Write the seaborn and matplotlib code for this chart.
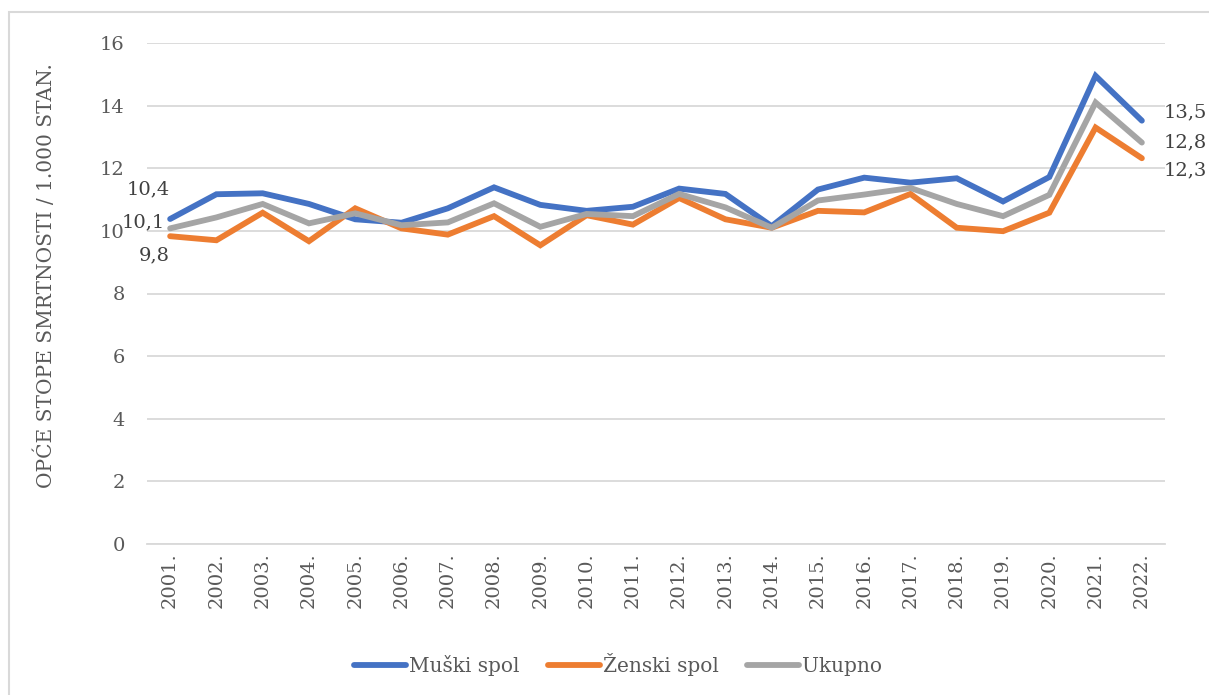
import matplotlib
matplotlib.use("Agg")
import matplotlib.pyplot as plt
from matplotlib.patches import Rectangle
import seaborn as sns
import pandas as pd

years = ["2001.", "2002.", "2003.", "2004.", "2005.", "2006.", "2007.", "2008.", "2009.", "2010.", "2011.",
         "2012.", "2013.", "2014.", "2015.", "2016.", "2017.", "2018.", "2019.", "2020.", "2021.", "2022."]
muski = [10.38, 11.17, 11.20, 10.86, 10.37, 10.26, 10.72, 11.39, 10.83, 10.64, 10.77,
         11.35, 11.18, 10.15, 11.32, 11.70, 11.54, 11.68, 10.94, 11.72, 14.95, 13.52]
zenski = [9.83, 9.70, 10.58, 9.67, 10.72, 10.08, 9.88, 10.47, 9.54, 10.50, 10.20,
          11.05, 10.37, 10.10, 10.64, 10.59, 11.18, 10.10, 9.99, 10.58, 13.30, 12.32]
ukupno = [10.08, 10.43, 10.86, 10.24, 10.56, 10.18, 10.27, 10.88, 10.13, 10.54, 10.47,
          11.18, 10.75, 10.10, 10.97, 11.16, 11.37, 10.86, 10.47, 11.15, 14.10, 12.82]
series_names = ["Muški spol", "Ženski spol", "Ukupno"]
colors = ["#4472C4", "#ED7D31", "#A5A5A5"]
y_ticks = [0, 2, 4, 6, 8, 10, 12, 14, 16]
y_label = "OPĆE STOPE SMRTNOSTI / 1.000 STAN."

sns.set_theme(style="white")
plt.rcParams["font.family"] = ["DejaVu Serif"]

values = [muski, zenski, ukupno]
rows = []
for name, vals in zip(series_names, values):
    for i, (yr, v) in enumerate(zip(years, vals)):
        rows.append({"idx": i, "year": yr, "value": v, "series": name})
df = pd.DataFrame(rows)

W, H = 1209, 695
fig = plt.figure(figsize=(W / 100, H / 100), dpi=100)
# chart-area border (left and top edges visible)
fig.patches.append(Rectangle((9 / W, -0.1), 1.2, 1.1 - 12 / H, transform=fig.transFigure,
                             fill=False, edgecolor="#D9D9D9", linewidth=1.5, zorder=0))
ax = fig.add_axes([147 / W, 1 - 544 / H, (1165 - 147) / W, (544 - 43) / H])

sns.lineplot(data=df, x="idx", y="value", hue="series", palette=colors,
             hue_order=series_names, linewidth=4.2, ax=ax, legend=True,
             solid_capstyle="round", solid_joinstyle="miter")

ax.set_xlim(-0.5, len(years) - 0.5)
ax.set_ylim(0, 16)
ax.set_yticks(y_ticks)
ax.set_yticklabels([str(t) for t in y_ticks], fontsize=14, color="#595959")
ax.set_xticks(range(len(years)))
ax.set_xticklabels(years, rotation=90, fontsize=14, color="#595959")
ax.tick_params(axis="y", length=0, pad=16)
ax.tick_params(axis="x", length=0, pad=6)
ax.yaxis.grid(True, color="#D9D9D9", linewidth=1.3)
ax.xaxis.grid(False)
for s in ["top", "right", "left"]:
    ax.spines[s].set_visible(False)
ax.spines["bottom"].set_color("#D9D9D9")
ax.spines["bottom"].set_linewidth(1.3)
ax.set_xlabel("")
ax.set_ylabel(y_label, fontsize=14.5, color="#595959")
ax.yaxis.set_label_coords((56 - 147) / 1018, 1 - (276 - 43) / 501)

def fmt(v):
    return f"{v:.1f}".replace(".", ",")

# data labels at first point (left) and last point (right); order: muski, zenski, ukupno
left_offsets = [(0, 21), (0, -14), (-4, 4)]
right_offsets = [(16, 6), (16, -9), (16, 0)]
last = len(years) - 1
for vals, lo, ro in zip(values, left_offsets, right_offsets):
    ax.annotate(fmt(vals[0]), (0, vals[0]), xytext=lo, textcoords="offset points",
                ha="right", va="center", fontsize=14, color="#404040", annotation_clip=False)
    ax.annotate(fmt(vals[last]), (last, vals[last]), xytext=ro, textcoords="offset points",
                ha="left", va="center", fontsize=14, color="#404040", annotation_clip=False)

leg = ax.legend(loc="center", bbox_to_anchor=((618 - 147) / 1018, 1 - (665 - 43) / 501.0),
                ncol=3, frameon=False, fontsize=14.5, handlelength=2.6, handletextpad=0.15,
                columnspacing=1.4)
for t in leg.get_texts():
    t.set_color("#595959")

fig.savefig("out.png", dpi=100)
